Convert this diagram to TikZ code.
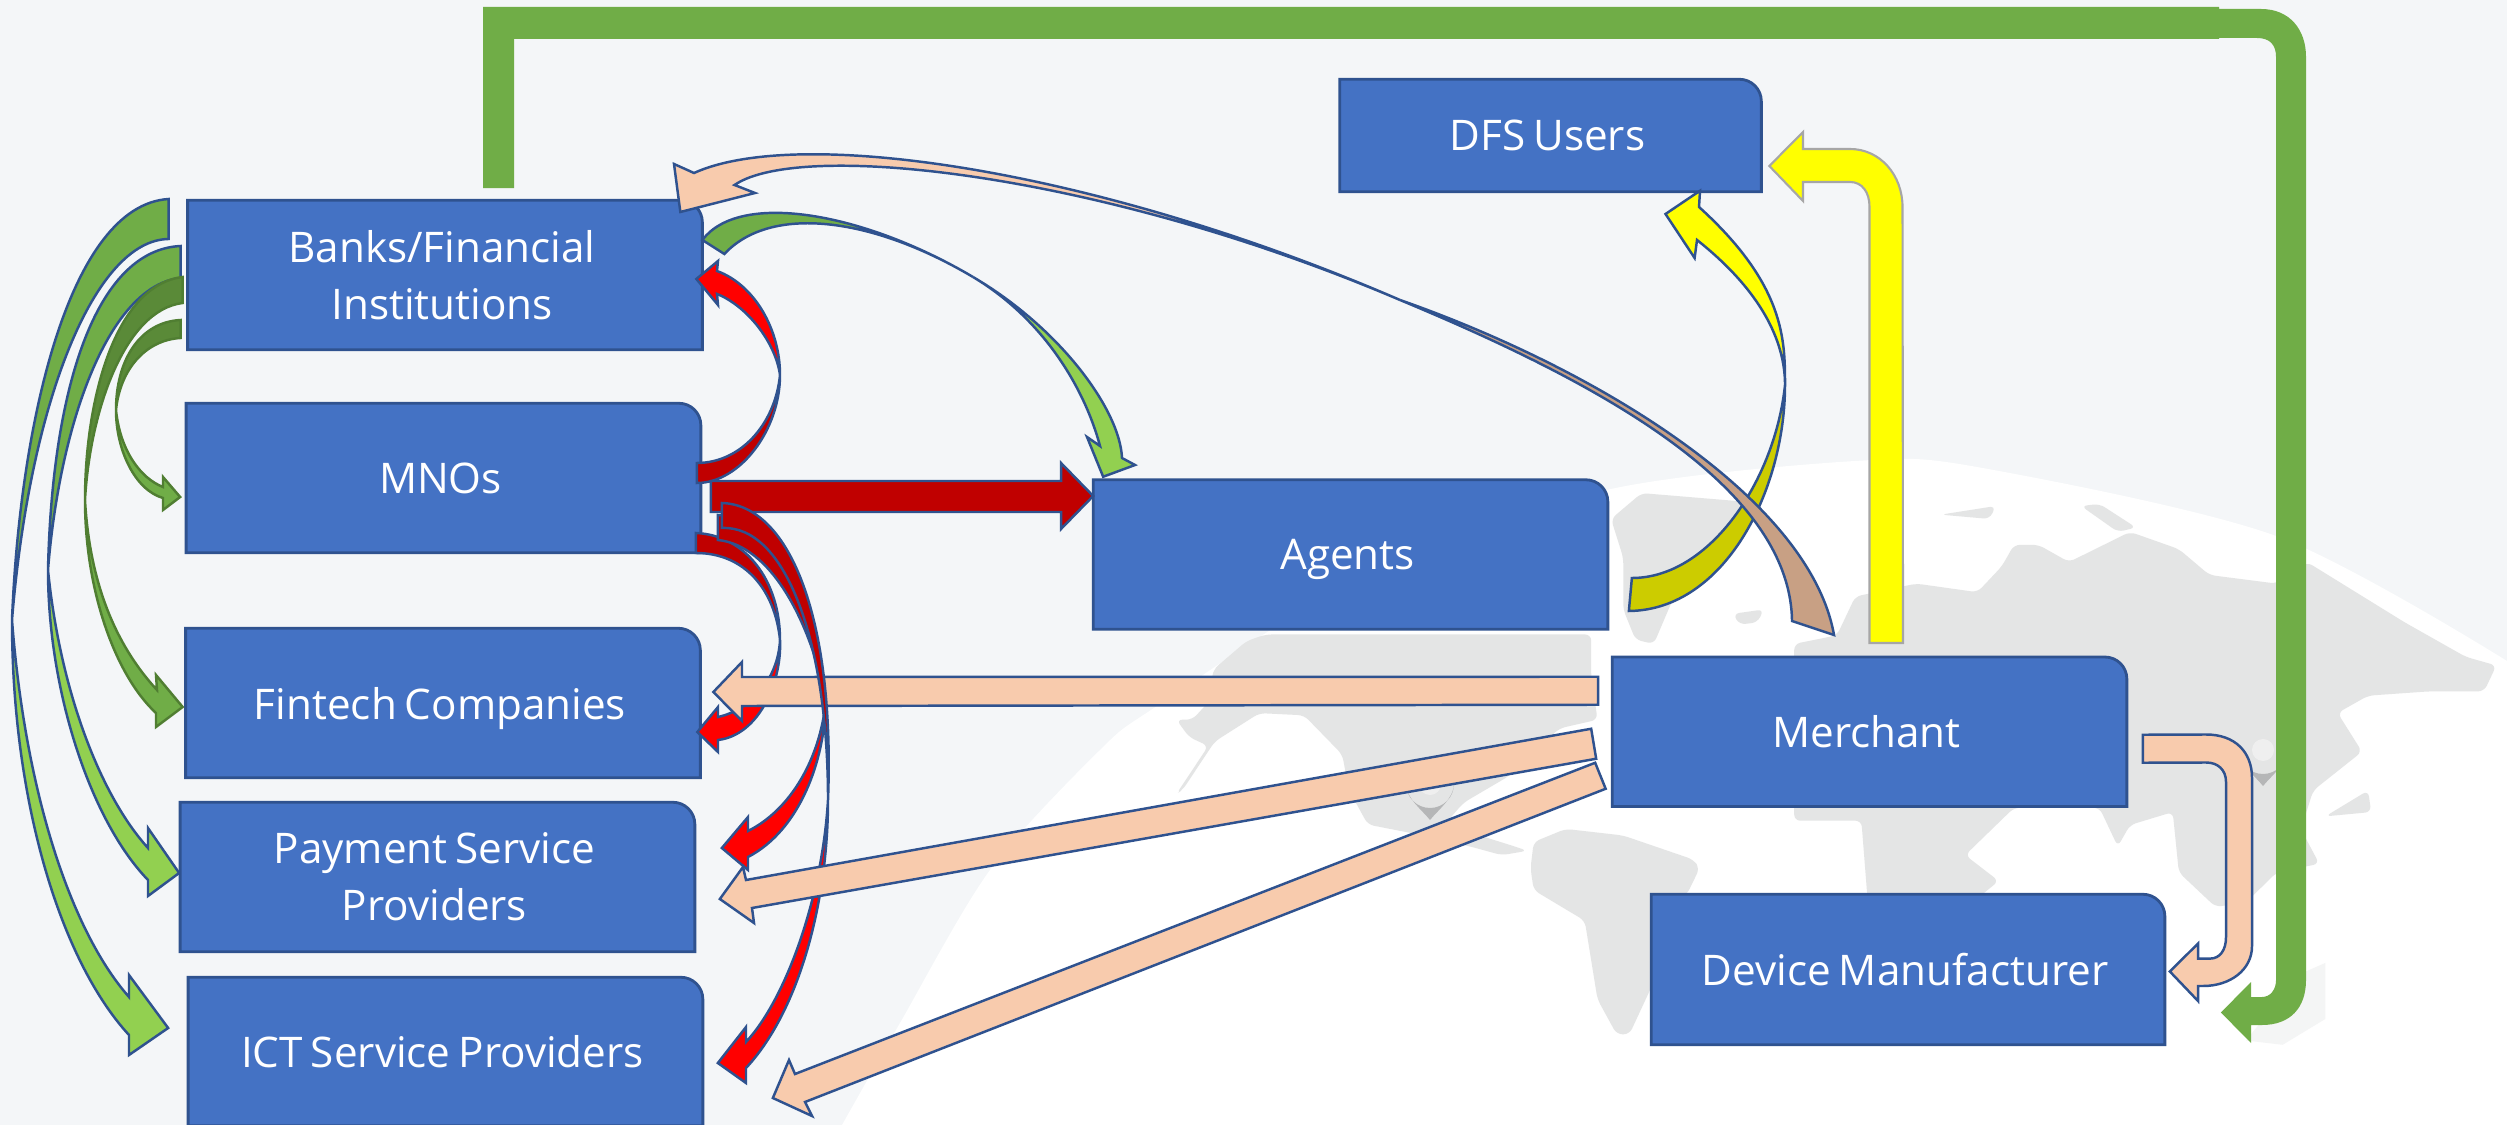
\documentclass[tikz,border=0pt]{standalone}
\usepackage{fontspec}
\setmainfont{Open Sans}
\usetikzlibrary{calc}
\pgfdeclarelayer{world}
\pgfdeclarelayer{boxes}
\pgfsetlayers{world,boxes,main}
\definecolor{pagegrey}{HTML}{F4F6F8}
\definecolor{landgrey}{HTML}{E4E5E5}
\definecolor{pingrey}{HTML}{B5B6B7}
\definecolor{boxblue}{HTML}{4472C4}
\definecolor{edgeblue}{HTML}{2F528F}
\definecolor{peach}{HTML}{F8CBAD}
\definecolor{tan}{HTML}{C8A084}
\definecolor{leaf}{HTML}{70AD47}
\definecolor{lime}{HTML}{92D050}
\definecolor{moss}{HTML}{5A8A38}
\definecolor{mossedge}{HTML}{507E32}
\definecolor{darkred}{HTML}{C00000}
\definecolor{brightred}{HTML}{FF0000}
\definecolor{brightyellow}{HTML}{FFFF00}
\definecolor{olive}{HTML}{CCCC00}

\begin{document}
\begin{tikzpicture}[
    x=0.01cm, y=-0.01cm,
    dfsbox/.style={text=white, align=center, inner sep=0pt, text width=4.4cm, text depth=0pt,
        font=\fontsize{12}{16.2}\selectfont,
        execute at begin node={\advance\rightskip 0.06cm \spaceskip=0.19em},
        minimum width=5.13cm, minimum height=1.48cm,
        append after command={\pgfextra{\begin{pgfonlayer}{boxes}
            \draw[fill=boxblue, draw=edgeblue, line width=0.8pt]
                (\tikzlastnode.north) [rounded corners=0.22cm] -- (\tikzlastnode.north east)
                -- (\tikzlastnode.east) [sharp corners] -- (\tikzlastnode.south east)
                -- (\tikzlastnode.south west) -- (\tikzlastnode.north west) -- cycle;
            \end{pgfonlayer}}}},
    blockarrow/.style={draw=edgeblue, line width=0.7pt, line join=miter, fill=#1},
    mossarrow/.style={draw=mossedge, line width=0.7pt, line join=miter, fill=#1},
    land/.style={fill=landgrey, draw=none, rounded corners=0.06cm}
]
    \useasboundingbox (0,0) rectangle (2507,1125);

    % World map behind everything
    \begin{pgfonlayer}{world}
    \fill[pagegrey] (0,0) rectangle (2507,1125);
    \fill[white] plot[smooth] coordinates {(842,1125) (900,1023) (990,870) (1100,750) (1157,706) (1380,565) (1611,489)
        (1855,461) (1977,467) (2276,536) (2507,661)} -- (2507,1125) -- cycle;
    \begin{scope}[shift={(800,440)}, xscale=0.638, yscale=0.437]
        \fill[land] (615,640) -- (640,600) -- (648,525) -- (700,460) -- (730,445) -- (1240,445) -- (1240,540) -- (1250,640)
            -- (1190,660) -- (1110,770) -- (1040,830) -- (1010,880) -- (1120,930) -- (1140,940) -- (1100,950) -- (1050,930)
            -- (960,900) -- (890,880) -- (860,800) -- (850,720) -- (790,630) -- (720,625) -- (650,690) -- (600,800)
            -- (590,810) -- (640,700) -- (610,680) -- (590,640) -- cycle;
        \fill[land] (1150,920) -- (1200,890) -- (1290,905) -- (1400,960) -- (1410,980) -- (1390,1040) -- (1335,1080)
            -- (1335,1250) -- (1300,1360) -- (1280,1360) -- (1250,1280) -- (1230,1100) -- (1150,1030) -- (1145,980) -- cycle;
    \end{scope}
    \begin{scope}[shift={(1550,450)}, xscale=0.6105, yscale=0.431]
        % Greenland and Iceland
        \fill[land] (100,160) -- (150,100) -- (320,120) -- (350,130) -- (300,230) -- (200,350) -- (170,450) -- (140,440)
            -- (120,370) -- (120,250) -- cycle;
        \fill[land] (300,380) -- (350,370) -- (340,400) -- (310,405) -- cycle;
        % Eurasia and Africa
        \fill[land] (400,450) -- (470,430) -- (500,340) -- (600,310) -- (700,330) -- (740,270) -- (760,220) -- (800,220)
            -- (850,260) -- (950,190) -- (1030,230) -- (1080,290) -- (1190,310) -- (1240,260) -- (1400,400) -- (1500,480)
            -- (1550,500) -- (1530,560) -- (1440,560) -- (1340,570) -- (1290,610) -- (1330,700) -- (1250,790) -- (1230,880)
            -- (1260,960) -- (1190,980) -- (1140,1050) -- (1090,1060) -- (1030,980) -- (1020,840) -- (950,870) -- (930,920)
            -- (900,830) -- (760,830) -- (680,940) -- (735,1000) -- (700,1040) -- (520,1040) -- (510,860) -- (400,860) -- cycle;
        \fill[land] (1270,850) -- (1340,790) -- (1345,840) -- cycle;
        \fill[land] (870,130) -- (900,125) -- (960,180) -- (930,190) -- cycle;
        \fill[land] (640,150) -- (730,130) -- (720,160) -- cycle;
        \fill[landgrey!40] (1190,1240) -- (1270,1190) -- (1270,1320) -- (1200,1380) -- (1140,1370) -- (1180,1300) -- cycle;
    \end{scope}
    % Pins
    \foreach \px/\py in {2263/750, 1430/784} {
        \fill[pingrey] (\px-24,\py) arc[start angle=180, end angle=360, x radius=24, y radius=-24]
            .. controls (\px+24,\py+14) and (\px+8,\py+26) .. (\px,\py+36)
            .. controls (\px-8,\py+26) and (\px-24,\py+14) .. (\px-24,\py) -- cycle;
        \fill[landgrey!60] (\px,\py) circle[radius=11];
    }
    \end{pgfonlayer}

    % Boxes
    \node[dfsbox, text depth=] (bank) at (445,275) {Banks/Financial\\Institutions};
    \node[dfsbox] (mno) at (443.5,478) {MNOs};
    \node[dfsbox] (fintech) at (443,703) {Fintech Companies};
    \node[dfsbox, text depth=] (psp) at (437.5,877) {Payment Service\\Providers};
    \node[dfsbox, minimum height=1.47cm] (ict) at (445.5,1051.5) {ICT Service Providers};
    \node[dfsbox] (agents) at (1350.5,554.5) {Agents};
    \node[dfsbox] (merchant) at (1869.5,731.75) {Merchant};
    \node[dfsbox, minimum width=5.12cm, minimum height=1.49cm] (device) at (1908,969.5) {Device Manufacturer};
    \node[dfsbox, minimum width=4.2cm, minimum height=1.11cm, text width=4cm] (dfs) at (1550.5,135.5) {DFS Users};

    % Banks to the left column
    \draw[blockarrow=leaf] ($(bank.west)+(-19,-76)$) .. controls (70,205) and (20,420) .. (12,620)
        .. controls (30,400) and (95,240) .. ($(bank.west)+(-19,-36)$) -- cycle;
    \draw[blockarrow=lime] (12,620) .. controls (12,800) and (60,960) .. (129,1035) -- (129,1055)
        -- ($(ict.west)+(-20,-23.5)$) -- (129,975) -- (129,997) .. controls (70,930) and (25,790) .. (12,620) -- cycle;
    \draw[blockarrow=leaf] ($(bank.west)+(-7,-29)$) .. controls (95,250) and (52,390) .. (48,570)
        .. controls (60,420) and (110,285) .. ($(bank.west)+(-7,3)$) -- cycle;
    \draw[blockarrow=lime] (48,570) .. controls (48,690) and (90,820) .. (148,880) -- (148,896)
        -- ($(psp.west)+(-1,-4)$) -- (148,828) -- (148,848) .. controls (100,795) and (60,690) .. (48,570) -- cycle;
    \draw[mossarrow=moss] ($(bank.west)+(-5,2)$) .. controls (115,285) and (85,400) .. (85,500)
        .. controls (90,410) and (125,310) .. ($(bank.west)+(-5,28)$) -- cycle;
    \draw[mossarrow=leaf] (85,500) .. controls (85,590) and (115,675) .. (156,713) -- (156,727)
        -- ($(fintech.west)+(-3,4)$) -- (156,675) -- (157,690) .. controls (120,650) and (90,590) .. (85,500) -- cycle;
    \draw[mossarrow=moss] ($(bank.west)+(-7,45)$) .. controls (140,322) and (116,360) .. (116,410)
        .. controls (120,370) and (145,340) .. ($(bank.west)+(-7,63)$) -- cycle;
    \draw[mossarrow=leaf] (116,410) .. controls (116,450) and (135,490) .. (163,498) -- (163,510)
        -- ($(mno.west)+(-6,19)$) -- (163,477) -- (163,487) .. controls (140,478) and (120,450) .. (116,410) -- cycle;

    % Banks to Agents
    \draw[blockarrow=leaf] ($(bank.east)+(0,-35)$) .. controls (740,190) and (865,213) .. (973,277)
        .. controls (870,216) and (770,205) .. ($(bank.east)+(22,-21)$) -- cycle;
    \draw[blockarrow=lime] (973,277) .. controls (1060,328) and (1120,410) .. (1122,458) -- (1135,465)
        -- ($(agents.north west)+(10,-3)$) -- (1087,437) -- (1100,446) .. controls (1085,390) and (1045,320) .. (973,277) -- cycle;

    % MNOs to Banks and Agents
    \draw[blockarrow=brightred] (780,375) .. controls (780,330) and (755,285) .. (717,271) -- (718,261)
        -- ($(bank.east)+(-6,4)$) -- (718,305) -- (717,294) .. controls (745,305) and (775,340) .. (780,375) -- cycle;
    \draw[blockarrow=darkred] (780,375) .. controls (780,430) and (740,483) .. ($(mno.east)+(-4,5)$)
        -- ($(mno.east)+(-4,-15)$) .. controls (740,463) and (775,425) .. (780,375) -- cycle;
    \draw[blockarrow=darkred] ($(mno.east)+(10,3)$) -- (1061,481) -- (1061,463) -- ($(agents.west)+(0,-58.5)$)
        -- (1061,529) -- (1061,512) -- ($(mno.east)+(10,34)$) -- cycle;

    % MNOs to Fintech and Payment
    \draw[blockarrow=darkred] ($(mno.east)+(-5,55)$) .. controls (745,535) and (780,580) .. (780,640)
        .. controls (775,590) and (745,553) .. ($(mno.east)+(-5,75)$) -- cycle;
    \draw[blockarrow=brightred] (780,640) .. controls (782,680) and (760,735) .. (718,740) -- (718,752)
        -- ($(fintech.east)+(-3,29)$) -- (718,707) -- (718,717) .. controls (750,710) and (778,680) .. (780,640) -- cycle;
    \draw[blockarrow=darkred] ($(mno.east)+(17,37)$) .. controls (790,520) and (815,620) .. (826,700)
        .. controls (810,620) and (770,545) .. ($(mno.east)+(17,62)$) -- cycle;
    \draw[blockarrow=brightred] (826,700) .. controls (825,760) and (800,830) .. (748,857) -- (748,870)
        -- ($(psp.east)+(27,-29)$) -- (748,817) -- (748,831) .. controls (790,810) and (820,760) .. (826,700) -- cycle;

    % Merchant to Fintech
    \draw[blockarrow=peach] ($(merchant.west)+(-14,-55)$) -- (742,677) -- (742,662) -- ($(fintech.east)+(13,-11)$)
        -- (742,721) -- (742,706) -- ($(merchant.west)+(-14,-27)$) -- cycle;

    % MNOs to ICT
    \draw[blockarrow=darkred] ($(mno.east)+(21,25)$) .. controls (790,505) and (835,620) .. (828,800)
        .. controls (828,640) and (785,525) .. ($(mno.east)+(21,50)$) -- cycle;
    \draw[blockarrow=brightred] (828,800) .. controls (828,900) and (800,1010) .. (746,1068) -- (746,1083)
        -- ($(ict.east)+(15,11.5)$) -- (746,1027) -- (746,1042) .. controls (785,1000) and (822,900) .. (828,800) -- cycle;

    % Merchant to Payment and ICT
    \draw[blockarrow=peach] ($(merchant.west)+(-21,-3)$) -- (746,880) -- (743,867) -- ($(psp.east)+(25,22)$)
        -- (754,923) -- (752,908) -- ($(merchant.west)+(-16,27)$) -- cycle;
    \draw[blockarrow=peach] ($(merchant.west)+(-17,31)$) -- (795,1074) -- (789,1060) -- ($(ict.east)+(70,46.5)$)
        -- (812,1116) -- (805,1102) -- ($(merchant.west)+(-6.5,57)$) -- cycle;

    % Merchant to Device
    \draw[blockarrow=peach] ($(merchant.east)+(16,3)$) -- (2206,734.5) .. controls (2235,734.5) and (2252,752) .. (2252,778)
        -- (2252,946) .. controls (2252,970) and (2230,986) .. (2203,986) -- (2198,986) -- (2198,1001)
        -- ($(device.east)+(5,2)$) -- (2198,943.5) -- (2198,958.6) -- (2210,958.6) .. controls (2220,958.6) and (2226,950) .. (2226,937)
        -- (2226,782) .. controls (2226,770) and (2218,762.5) .. (2206,762.5) -- ($(merchant.east)+(16,31)$) -- cycle;

    % Agents to DFS Users
    \draw[blockarrow=olive] (1785,385) .. controls (1785,490) and (1725,610) .. ($(agents.east)+(21,56.5)$)
        -- ($(agents.east)+(24,23.5)$) .. controls (1710,578) and (1775,480) .. (1785,385) -- cycle;
    \draw[blockarrow=brightyellow] (1785,385) .. controls (1785,340) and (1785,285) .. (1699,207)
        -- ($(dfs.south)+(149.5,-1)$) -- (1665.5,214) -- (1694.6,258) -- (1697,240)
        .. controls (1760,290) and (1785,340) .. (1785,385) -- cycle;

    % Merchant to Banks
    \draw[blockarrow=peach] (1400,300) .. controls (1100,170) and (800,125) .. (694,173) -- (674,164)
        -- ($(bank.east)+(-22,-63)$) -- (755,193) -- (734.5,185) .. controls (800,140) and (1100,172) .. (1400,300) -- cycle;
    \draw[blockarrow=tan] (1400,300) .. controls (1600,370) and (1810,500) .. ($(merchant.north)+(-35.5,-22)$)
        -- ($(merchant.north)+(-77.5,-36)$) .. controls (1790,480) and (1580,375) .. (1400,300) -- cycle;

    % Merchant to DFS Users
    \draw[fill=brightyellow, draw=black!35, line width=0.6pt] ($(merchant.north)+(0,-14)$) -- (1869.5,207)
        .. controls (1869.5,192) and (1862,182) .. (1850,182) -- (1803,182) -- (1803,201)
        -- ($(dfs.east)+(8,30.5)$) -- (1803,132) -- (1803,149) -- (1850,149)
        .. controls (1880,149) and (1902.5,175) .. (1902.5,207) -- ($(merchant.north)+(33.5,-14)$) -- cycle;

    % Banks to Device
    \fill[leaf] ($(bank.north)+(38,-12)$) -- (483,7) -- (2219,7) -- (2219,9) -- (2261,9)
        .. controls (2290,9) and (2306,30) .. (2306,57) -- (2306,980)
        .. controls (2306,1008) and (2290,1025) .. (2262,1025) -- (2251,1025) -- (2251,1043)
        -- ($(device.east)+(56,43)$) -- (2251,982) -- (2251,997) -- (2262,997)
        .. controls (2270,997) and (2276,990) .. (2276,980) -- (2276,57)
        .. controls (2276,45) and (2270,38) .. (2257,38) -- (2219,38) -- (2219,39) -- (514,39)
        -- ($(bank.north)+(69,-12)$) -- cycle;
\end{tikzpicture}
\end{document}
